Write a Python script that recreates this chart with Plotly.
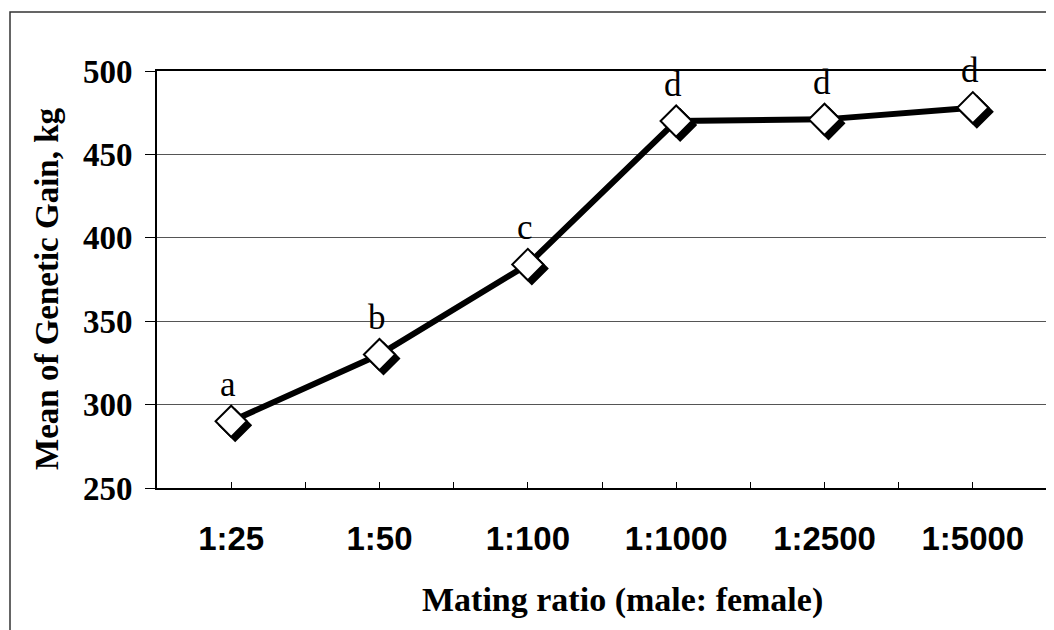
import plotly.graph_objects as go

categories = ["1:25", "1:50", "1:100", "1:1000", "1:2500", "1:5000"]
gain = [290, 330, 384, 470, 471, 478]
letters = ["a", "b", "c", "d", "d", "d"]
y_ticks = [250, 300, 350, 400, 450, 500]

x = list(range(len(categories)))
mid = [i + 0.5 for i in x[:-1]]

# plot-area geometry (figure pixels)
W, H = 1054, 630
L, T = 149, 63
R, B = W - 1039, H - 480
pw, ph = W - L - R, H - T - B
xr = [-0.5, len(categories) - 0.5]
yr = [250, 500]
sx = 4 * (xr[1] - xr[0]) / pw
sy = 4 * (yr[1] - yr[0]) / ph


def px_x(p):
    return (p - L) / pw


def px_y(p):
    return (H - B - p) / ph


fig = go.Figure()

fig.add_trace(go.Scatter(x=x, y=gain, mode="none", showlegend=False,
                         xaxis="x", yaxis="y", hoverinfo="skip"))
fig.add_trace(go.Scatter(x=x, y=gain, mode="markers", showlegend=False,
                         marker=dict(symbol="diamond", size=24, color="black",
                                     line=dict(color="black", width=2)),
                         xaxis="x2", yaxis="y2", hoverinfo="skip"))
fig.add_trace(go.Scatter(x=x, y=gain, mode="lines+markers", showlegend=False,
                         line=dict(color="black", width=6),
                         marker=dict(symbol="diamond", size=24, color="white",
                                     line=dict(color="black", width=2)),
                         xaxis="x3", yaxis="y3"))

for xi, yi, t in zip(x, gain, letters):
    fig.add_annotation(x=xi, y=yi, text=t, showarrow=False, xref="x3", yref="y3",
                       yshift=37, xshift=-3,
                       font=dict(family="Liberation Serif", size=35, color="black"))

fig.add_annotation(x=px_x(39), y=px_y(281), xref="paper", yref="paper",
                   text="<b>Mean of Genetic Gain, kg</b>", textangle=-90,
                   showarrow=False, xanchor="center", yanchor="middle",
                   font=dict(family="Liberation Serif", size=33, color="black"))
fig.add_annotation(x=px_x(614), y=px_y(592), xref="paper", yref="paper",
                   text="<b>Mating ratio (male: female)</b>",
                   showarrow=False, xanchor="center", yanchor="middle",
                   font=dict(family="Liberation Serif", size=34, color="black"))

fig.add_shape(type="rect", xref="paper", yref="paper",
              x0=px_x(2), x1=px_x(1052), y0=px_y(626), y1=px_y(4),
              line=dict(color="#333333", width=1.5), layer="below")

hidden = dict(visible=False, showgrid=False, zeroline=False)
fig.update_layout(
    width=W, height=H,
    margin=dict(l=L, r=R, t=T, b=B),
    paper_bgcolor="white", plot_bgcolor="white",
    xaxis=dict(range=xr, tickvals=x, ticktext=categories,
               ticks="inside", ticklen=6, tickwidth=1, tickcolor="black",
               minor=dict(tickvals=mid, ticks="inside", ticklen=6, tickwidth=1,
                          tickcolor="black", showgrid=False),
               showline=True, linecolor="black", linewidth=2, mirror=True,
               showgrid=False, zeroline=False, ticklabelstandoff=20,
               tickfont=dict(family="Liberation Sans", size=33, color="black",
                             weight="bold")),
    yaxis=dict(range=yr, tickvals=y_ticks, ticks="outside", ticklen=10,
               tickwidth=1, tickcolor="black", ticklabelstandoff=6,
               showline=True, linecolor="black", linewidth=2, mirror=True,
               showgrid=True, gridcolor="#555555", gridwidth=1, zeroline=False,
               tickfont=dict(family="Liberation Serif", size=33, color="black",
                             weight="bold")),
    xaxis2=dict(range=[xr[0] - sx, xr[1] - sx], overlaying="x", **hidden),
    yaxis2=dict(range=[yr[0] + sy, yr[1] + sy], overlaying="y", **hidden),
    xaxis3=dict(range=xr, overlaying="x", **hidden),
    yaxis3=dict(range=yr, overlaying="y", **hidden),
)

fig.write_html("out.html")
